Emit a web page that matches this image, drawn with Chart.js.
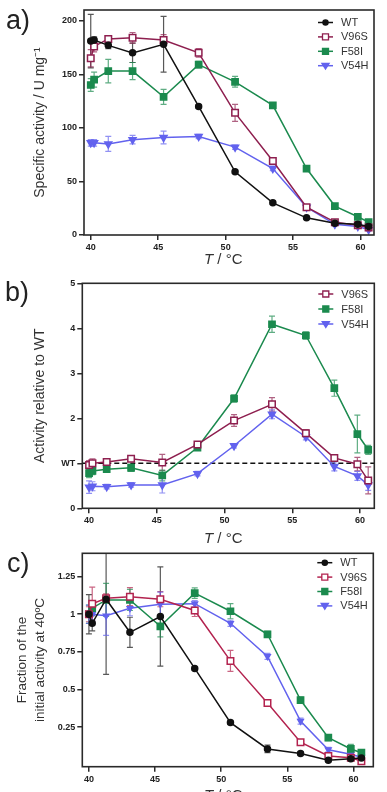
<!DOCTYPE html>
<html>
<head>
<meta charset="utf-8">
<script src="https://cdn.jsdelivr.net/npm/chart.js@4/dist/chart.umd.min.js"></script>
<style>
  html, body { margin: 0; padding: 0; background: #fff; }
  body { width: 387px; height: 792px; position: relative; overflow: hidden; font-family: "Liberation Sans", Arial, sans-serif; }
  canvas { position: absolute; left: 0; }
  .lbl { position: absolute; font-family: "Liberation Sans", Arial, sans-serif; color: #222; white-space: nowrap; }
  .panel { font-size: 27px; line-height: 27px; }
  .xt { font-size: 15px; line-height: 15px; color: #333; }
</style>
</head>
<body>
<canvas id="cA" width="387" height="268" style="top:0px"></canvas>
<canvas id="cB" width="387" height="267" style="top:268px"></canvas>
<canvas id="cC" width="387" height="257" style="top:535px"></canvas>
<div class="lbl panel" style="left:6px;top:7px">a)</div>
<div class="lbl panel" style="left:5px;top:279px">b)</div>
<div class="lbl panel" style="left:7px;top:550px">c)</div>
<div class="lbl xt" style="left:204px;top:251px"><i>T</i> / °C</div>
<div class="lbl xt" style="left:204px;top:530px"><i>T</i> / °C</div>
<div class="lbl xt" style="left:204px;top:787px"><i>T</i> / °C</div>
<script>
// ---------- data ----------
const temps = [40.0, 40.25, 41.3, 43.1, 45.4, 48.0, 50.7, 53.5, 56.0, 58.1, 59.8, 60.6];
const xTicks = [40, 45, 50, 55, 60];

// panel a: specific activity (U mg-1)
const wtA      = [181, 182, 177, 170, 178, 120, 59, 30, 16, 11, 10, 8];
const wtAErr   = [25, 3, 3, 9, 26, 1.5, 1.5, 1.5, 1, 1, 1, 1];
const v96sA    = [165, 176, 183, 184, 182, 170, 114, 69, 26, 12, 9, 7];
const v96sAErr = [8, 5, 3, 5, 5, 4, 8, 3, 2, 1.5, 1.5, 1];
const f58iA    = [140, 145, 153, 153, 129, 159, 143, 121, 62, 27, 17, 12];
const f58iAErr = [6, 7, 11, 8, 7, 3, 5, 2, 2, 1.5, 2, 1.5];
const v54hA    = [86, 86, 85, 89, 91, 92, 82, 62, 26, 10, 8, 5];
const v54hAErr = [3, 3, 7, 4, 6, 2, 2, 2, 2, 1.5, 1.5, 1];
const yTicksA  = [0, 50, 100, 150, 200];

// panel b: activity relative to WT
const v96sB    = [0.96, 1.0, 1.03, 1.1, 1.02, 1.42, 1.95, 2.31, 1.67, 1.12, 0.98, 0.62];
const v96sBErr = [0.1, 0.1, 0.05, 0.05, 0.18, 0.05, 0.13, 0.15, 0.08, 0.07, 0.15, 0.3];
const f58iB    = [0.78, 0.83, 0.87, 0.9, 0.73, 1.35, 2.44, 4.09, 3.84, 2.67, 1.65, 1.3];
const f58iBErr = [0.1, 0.08, 0.05, 0.08, 0.12, 0.05, 0.08, 0.18, 0.08, 0.18, 0.42, 0.1];
const v54hB    = [0.47, 0.49, 0.48, 0.52, 0.52, 0.77, 1.39, 2.09, 1.59, 0.93, 0.72, 0.52];
const v54hBErr = [0.14, 0.1, 0.05, 0.05, 0.18, 0.05, 0.05, 0.1, 0.07, 0.1, 0.1, 0.12];
const yTicksB  = [0, 1, 2, 3, 4, 5];
const yLabelsB = ['0', 'WT', '2', '3', '4', '5'];
const wtRefB   = 1;

// panel c: fraction of the initial activity at 40 °C
const wtC      = [1.0, 0.94, 1.10, 0.88, 0.985, 0.64, 0.28, 0.105, 0.075, 0.03, 0.04, 0.045];
const wtCErr   = [0.13, 0.05, 0.5, 0.1, 0.33, 0.01, 0.01, 0.025, 0.01, 0.01, 0.01, 0.01];
const v96sC    = [1.0, 1.07, 1.106, 1.117, 1.10, 1.025, 0.69, 0.41, 0.15, 0.058, 0.046, 0.024];
const v96sCErr = [0.05, 0.11, 0.03, 0.06, 0.05, 0.04, 0.07, 0.02, 0.015, 0.01, 0.01, 0.01];
const f58iC    = [1.0, 1.04, 1.095, 1.095, 0.92, 1.14, 1.02, 0.867, 0.43, 0.18, 0.105, 0.08];
const f58iCErr = [0.06, 0.04, 0.11, 0.07, 0.07, 0.035, 0.05, 0.02, 0.02, 0.02, 0.03, 0.02];
const v54hC    = [1.0, 1.0, 0.99, 1.04, 1.067, 1.07, 0.94, 0.72, 0.29, 0.1, 0.07, 0.05];
const v54hCErr = [0.06, 0.04, 0.13, 0.05, 0.08, 0.02, 0.02, 0.02, 0.02, 0.015, 0.01, 0.01];
const yTicksC  = [0.25, 0.5, 0.75, 1, 1.25];

// ---------- styles ----------
const COL = { wt: '#111111', v96s: '#8e1f4f', v96sC: '#b3234f', f58i: '#1b8a4e', v54h: '#6262ee' };
const STY = {
  wt:   { pointStyle: 'circle', pointRadius: 3, fill: null },
  v96s: { pointStyle: 'rect', pointRadius: 4.6, fill: '#ffffff' },
  f58i: { pointStyle: 'rect', pointRadius: 4.4, fill: null },
  v54h: { pointStyle: 'triangle', pointRadius: 4, rotation: 180, fill: null }
};

function ds(label, key, color, ys, errs, rad) {
  const s = STY[key];
  return {
    label: label,
    data: temps.map((t, i) => ({ x: t, y: ys[i] })),
    errors: errs,
    borderColor: color,
    backgroundColor: color,
    borderWidth: 1.5,
    pointStyle: s.pointStyle,
    pointRadius: rad || s.pointRadius,
    pointRotation: s.rotation || 0,
    pointBackgroundColor: s.fill || color,
    pointBorderColor: color,
    pointBorderWidth: 1.5,
    tension: 0,
    fill: false
  };
}

// ---------- plugins ----------
const framePlugin = {
  id: 'frame',
  beforeDatasetsDraw(chart, args, opts) {
    const { ctx, chartArea: a } = chart;
    ctx.save();
    if (opts.refY !== undefined && opts.refY !== null) {
      const y = chart.scales.y.getPixelForValue(opts.refY);
      ctx.strokeStyle = '#111';
      ctx.lineWidth = 1.5;
      ctx.setLineDash([5, 3]);
      ctx.beginPath(); ctx.moveTo(a.left, y); ctx.lineTo(a.right, y); ctx.stroke();
      ctx.setLineDash([]);
    }
    // error bars
    ctx.beginPath(); ctx.rect(a.left, a.top, a.right - a.left, a.bottom - a.top); ctx.clip();
    chart.data.datasets.forEach((d) => {
      if (!d.errors) return;
      ctx.strokeStyle = d.borderColor;
      ctx.globalAlpha = 0.7;
      ctx.lineWidth = 1.2;
      d.data.forEach((p, i) => {
        const e = d.errors[i];
        const x = chart.scales.x.getPixelForValue(p.x);
        const y1 = chart.scales.y.getPixelForValue(p.y + e);
        const y2 = chart.scales.y.getPixelForValue(p.y - e);
        ctx.beginPath();
        ctx.moveTo(x, y1); ctx.lineTo(x, y2);
        ctx.moveTo(x - 3, y1); ctx.lineTo(x + 3, y1);
        ctx.moveTo(x - 3, y2); ctx.lineTo(x + 3, y2);
        ctx.stroke();
      });
    });
    ctx.restore();
  },
  afterDraw(chart, args, opts) {
    const { ctx, chartArea: a } = chart;
    ctx.save();
    ctx.strokeStyle = '#2a2a2a';
    ctx.lineWidth = 1.6;
    ctx.strokeRect(a.left, a.top, a.right - a.left, a.bottom - a.top);
    // legend
    const top = a.top + (opts.legTop || 12);
    const step = opts.legStep || 14.5;
    chart.data.datasets.forEach((d, i) => {
      const y = top + i * step;
      const x0 = a.right - 56, x1 = a.right - 41;
      ctx.strokeStyle = d.borderColor;
      ctx.lineWidth = 1.5;
      ctx.beginPath(); ctx.moveTo(x0, y); ctx.lineTo(x1, y); ctx.stroke();
      const xm = (x0 + x1) / 2;
      ctx.fillStyle = d.pointBackgroundColor;
      ctx.beginPath();
      if (d.pointStyle === 'circle') {
        ctx.arc(xm, y, 2.6, 0, Math.PI * 2);
      } else if (d.pointStyle === 'rect') {
        const h = 3;
        ctx.rect(xm - h, y - h, 2 * h, 2 * h);
      } else {
        ctx.moveTo(xm - 3.6, y - 2.4); ctx.lineTo(xm + 3.6, y - 2.4); ctx.lineTo(xm, y + 3.4); ctx.closePath();
      }
      ctx.fill();
      ctx.lineWidth = 1.3;
      ctx.stroke();
      ctx.fillStyle = '#333';
      ctx.font = '11px "Liberation Sans", Arial, sans-serif';
      ctx.textBaseline = 'middle';
      ctx.textAlign = 'left';
      ctx.fillText(d.label, a.right - 33, y + 0.5);
    });
    ctx.restore();
  }
};

function makeChart(id, cfg) {
  const tickFont = { family: '"Liberation Sans", Arial, sans-serif', size: 9, weight: 'bold' };
  const grid = { drawOnChartArea: false, drawTicks: true, tickLength: 5, color: '#2a2a2a', lineWidth: 1.5 };
  return new Chart(document.getElementById(id), {
    type: 'line',
    data: { datasets: cfg.datasets },
    plugins: [framePlugin],
    options: {
      responsive: false,
      devicePixelRatio: 1,
      animation: false,
      layout: { padding: { left: cfg.padL, right: cfg.padR, top: cfg.padT, bottom: 0 } },
      plugins: {
        legend: { display: false },
        tooltip: { enabled: false },
        frame: { refY: cfg.refY, legTop: cfg.legTop, legStep: cfg.legStep }
      },
      scales: {
        x: {
          type: 'linear', min: cfg.xmin, max: cfg.xmax,
          afterBuildTicks: (s) => { s.ticks = xTicks.map(v => ({ value: v })); },
          afterFit: (s) => { s.height = cfg.xH; },
          ticks: { font: tickFont, color: '#222', padding: 2, maxRotation: 0, autoSkip: false, callback: (v) => String(v) },
          grid: grid,
          border: { display: false }
        },
        y: {
          type: 'linear', min: cfg.ymin, max: cfg.ymax,
          afterBuildTicks: (s) => { s.ticks = cfg.yTicks.map(v => ({ value: v })); },
          afterFit: (s) => { s.width = cfg.yW; },
          ticks: { font: tickFont, color: '#222', padding: 2, autoSkip: false,
                   callback: cfg.yLabel || ((v) => String(v)) },
          grid: grid,
          border: { display: false },
          title: { display: true, text: cfg.yTitle, color: '#333', padding: { top: 4, bottom: 0 },
                   font: { family: '"Liberation Sans", Arial, sans-serif', size: cfg.yTitleSize, lineHeight: cfg.yTitleLH || 1.2 } }
        }
      }
    }
  });
}

makeChart('cA', {
  datasets: [
    ds('WT', 'wt', COL.wt, wtA, wtAErr),
    ds('V96S', 'v96s', COL.v96s, v96sA, v96sAErr),
    ds('F58I', 'f58i', COL.f58i, f58iA, f58iAErr),
    ds('V54H', 'v54h', COL.v54h, v54hA, v54hAErr)
  ],
  padL: 28, padR: 13, padT: 10, yW: 56, xH: 33,
  xmin: 39.5, xmax: 61.0, ymin: 0, ymax: 210, yTicks: yTicksA,
  yTitle: 'Specific activity / U mg\u207B\u00B9', yTitleSize: 14,
  legTop: 12.5, legStep: 14.4
});

makeChart('cB', {
  datasets: [
    ds('V96S', 'v96s', COL.v96s, v96sB, v96sBErr),
    ds('F58I', 'f58i', COL.f58i, f58iB, f58iBErr),
    ds('V54H', 'v54h', COL.v54h, v54hB, v54hBErr)
  ],
  padL: 28, padR: 12.7, padT: 15.3, yW: 54.3, xH: 26.7,
  xmin: 39.5, xmax: 61.05, ymin: 0, ymax: 5, yTicks: yTicksB,
  yLabel: (v) => yLabelsB[yTicksB.indexOf(v)],
  yTitle: 'Activity relative to WT', yTitleSize: 14,
  refY: wtRefB, legTop: 10.7, legStep: 15
});

makeChart('cC', {
  datasets: [
    ds('WT', 'wt', COL.wt, wtC, wtCErr),
    ds('V96S', 'v96s', COL.v96sC, v96sC, v96sCErr),
    ds('F58I', 'f58i', COL.f58i, f58iC, f58iCErr),
    ds('V54H', 'v54h', COL.v54h, v54hC, v54hCErr, 3.2)
  ],
  padL: 9, padR: 13.7, padT: 18.3, yW: 73.3, xH: 25.3,
  xmin: 39.5, xmax: 61.5, ymin: -0.013, ymax: 1.405, yTicks: yTicksC,
  yTitle: ['Fraction of the', 'initial activity at 40\u00BAC'], yTitleSize: 13.5, yTitleLH: 1.35,
  legTop: 9.4, legStep: 14.4
});
</script>
</body>
</html>
